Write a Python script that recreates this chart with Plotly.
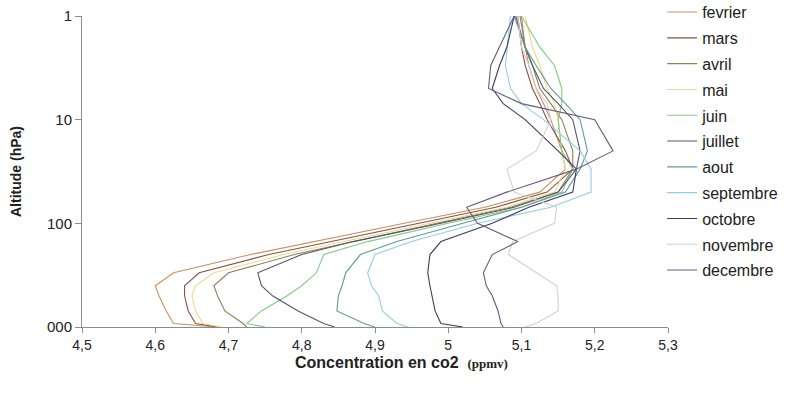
import plotly.graph_objects as go

# Pressure levels (hPa)
levels = [1, 2, 3, 5, 7, 10, 20, 30, 50, 70, 100, 150, 200, 300, 400, 500, 700, 925, 1000]

months = ["fevrier", "mars", "avril", "mai", "juin", "juillet", "aout",
          "septembre", "octobre", "novembre", "decembre"]

fevrier = [5.100, 5.105, 5.110, 5.120, 5.130, 5.140, 5.155, 5.160, 5.125, 5.050, 4.940, 4.820, 4.730, 4.625, 4.600, 4.605, 4.615, 4.625, 4.685]
mars = [5.095, 5.100, 5.105, 5.115, 5.125, 5.135, 5.160, 5.170, 5.135, 5.065, 4.960, 4.840, 4.755, 4.660, 4.640, 4.640, 4.645, 4.655, 4.685]
avril = [5.098, 5.105, 5.115, 5.125, 5.140, 5.155, 5.170, 5.170, 5.150, 5.085, 4.985, 4.870, 4.790, 4.700, 4.680, 4.685, 4.695, 4.720, 4.725]
mai = [5.105, 5.115, 5.125, 5.135, 5.145, 5.150, 5.155, 5.160, 5.145, 5.080, 4.975, 4.860, 4.775, 4.680, 4.655, 4.650, 4.655, 4.665, 4.690]
juin = [5.100, 5.125, 5.145, 5.155, 5.155, 5.150, 5.155, 5.170, 5.155, 5.100, 5.000, 4.890, 4.830, 4.820, 4.800, 4.780, 4.745, 4.725, 4.750]
juillet = [5.092, 5.105, 5.115, 5.130, 5.150, 5.170, 5.180, 5.175, 5.150, 5.090, 4.990, 4.870, 4.800, 4.740, 4.745, 4.760, 4.795, 4.830, 4.845]
aout = [5.090, 5.105, 5.120, 5.140, 5.160, 5.180, 5.190, 5.180, 5.160, 5.100, 5.020, 4.930, 4.880, 4.860, 4.855, 4.850, 4.848, 4.885, 4.900]
septembre = [5.085, 5.080, 5.078, 5.085, 5.100, 5.130, 5.180, 5.195, 5.195, 5.140, 5.040, 4.950, 4.900, 4.890, 4.895, 4.905, 4.910, 4.930, 4.945]
octobre = [5.090, 5.080, 5.070, 5.060, 5.075, 5.105, 5.150, 5.175, 5.170, 5.110, 5.060, 4.990, 4.975, 4.972, 4.975, 4.978, 4.982, 4.990, 5.020]
novembre = [5.095, 5.100, 5.110, 5.120, 5.135, 5.140, 5.120, 5.080, 5.090, 5.148, 5.145, 5.088, 5.082, 5.120, 5.148, 5.150, 5.150, 5.120, 5.105]
decembre = [5.090, 5.070, 5.058, 5.055, 5.100, 5.200, 5.225, 5.175, 5.080, 5.025, 5.040, 5.095, 5.060, 5.048, 5.052, 5.060, 5.068, 5.072, 5.075]

series = [fevrier, mars, avril, mai, juin, juillet, aout, septembre, octobre, novembre, decembre]

colors = ["#c8925e", "#8a5048", "#8a8258", "#ecd890", "#84c884", "#55556a",
          "#5f9c98", "#92cfe0", "#3c3c62", "#d6ccd8", "#6a5a7c"]

x_ticks = [4.5, 4.6, 4.7, 4.8, 4.9, 5.0, 5.1, 5.2, 5.3]
x_ticktext = ["4,5", "4,6", "4,7", "4,8", "4,9", "5", "5,1", "5,2", "5,3"]
y_ticks = [1, 10, 100, 1000]
y_ticktext = ["1", "10", "100", "000"]

fig = go.Figure()
for name, vals, col in zip(months, series, colors):
    fig.add_trace(go.Scatter(
        x=vals, y=levels, mode="lines", name=name, legendgroup=name,
        line=dict(color=col, width=1.1)))

axis_font = dict(family="Liberation Sans, Arial, sans-serif", size=15, color="#222")
xtick_font = dict(family="Liberation Sans, Arial, sans-serif", size=14, color="#222")

fig.update_layout(
    width=803, height=393,
    margin=dict(l=82, r=135, t=16, b=66, autoexpand=False),
    paper_bgcolor="white", plot_bgcolor="white",
    font=axis_font,
    showlegend=True,
    legend=dict(x=0.99, xanchor="left", y=1.067, yanchor="top",
                traceorder="grouped", tracegroupgap=2, maxheight=393,
                font=dict(family="Liberation Sans, Arial, sans-serif", size=16, color="#222"),
                bgcolor="rgba(0,0,0,0)", itemwidth=30),
    xaxis=dict(range=[4.5, 5.3], tickvals=x_ticks, ticktext=x_ticktext,
               showgrid=False, zeroline=False, showline=True, linecolor="#8c8c8c",
               linewidth=1, ticks="outside", ticklen=5, tickcolor="#8c8c8c",
               tickfont=xtick_font, automargin=False),
    yaxis=dict(type="log", range=[3, 0], tickvals=y_ticks, ticktext=y_ticktext,
               showgrid=False, zeroline=False, showline=True, linecolor="#8c8c8c",
               linewidth=1, ticks="outside", ticklen=6, tickcolor="#8c8c8c",
               tickfont=axis_font, automargin=False,
               title=dict(text="<b>Altitude (hPa)</b>", standoff=22,
                          font=dict(family="Liberation Sans, Arial, sans-serif", size=14, color="#222"))),
    annotations=[dict(
        x=0.545, y=-0.081, xref="paper", yref="paper", showarrow=False,
        xanchor="center", yanchor="top",
        text="<b>Concentration en co2</b>  <span style='font-family:Liberation Serif, Times New Roman, serif;font-size:13px'><b>(ppmv)</b></span>",
        font=dict(family="Liberation Sans, Arial, sans-serif", size=16, color="#222"))],
)

fig.write_html("out.html", config={"displayModeBar": False},
               post_script="document.body.style.margin='0px';")
